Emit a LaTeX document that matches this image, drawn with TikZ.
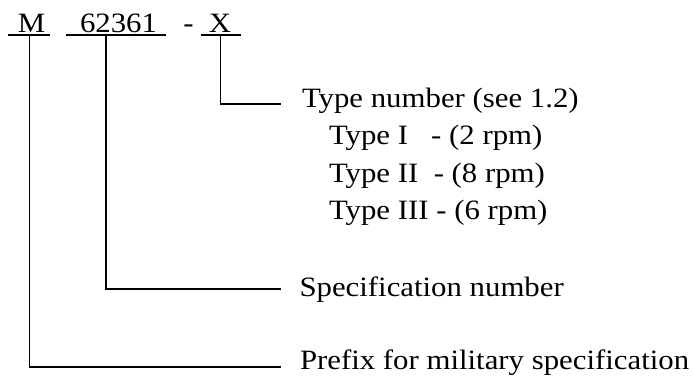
\documentclass[tikz,border=0pt]{standalone}
\usepackage{fontspec}
\setmainfont[FakeStretch=1.1]{Liberation Serif}
\begin{document}
\begin{tikzpicture}[x=1pt,y=-1pt,
  lbl/.style={inner sep=0pt,outer sep=0pt,font=\fontsize{28}{34}\selectfont},
  ln/.style={line width=1.4pt,line cap=rect}]
\useasboundingbox (0,0) rectangle (694,379);
% code letters
\node[lbl,anchor=base] (M) at (31.5,32.3) {M};
\node[lbl,anchor=base] (num) at (118.5,32.3) {62361};
\node[lbl,anchor=base] (dash) at (188.5,32.3) {-};
\node[lbl,anchor=base] (X) at (220,32.3) {X};
% underlines
\draw[ln] (9,35) -- (49,35);
\draw[ln] (67,35) -- (165,35);
\draw[ln] (202,35) -- (240,35);
% descriptions
\node[lbl,anchor=base west] (typenum) at (302,107.5) {Type number (see 1.2)};
\node[lbl,anchor=base west] (t1) at (329,145) {Type I\ \ \ - (2 rpm)};
\node[lbl,anchor=base west] (t2) at (329,182.5) {Type II\ \ - (8 rpm)};
\node[lbl,anchor=base west] (t3) at (329,220) {Type III - (6 rpm)};
\node[lbl,anchor=base west] (spec) at (299.5,297) {Specification number};
\node[lbl,anchor=base west] (pref) at (300,370) {Prefix for military specification};
% connector points
\coordinate (sX) at (220.5,35);
\coordinate (eX) at (280,104);
\coordinate (sN) at (106,35);
\coordinate (eN) at (280,289);
\coordinate (sM) at (29.5,35);
\coordinate (eM) at (280,367);
\draw[ln] (sX) |- (eX);
\draw[ln] (sN) |- (eN);
\draw[ln] (sM) |- (eM);
\end{tikzpicture}
\end{document}
